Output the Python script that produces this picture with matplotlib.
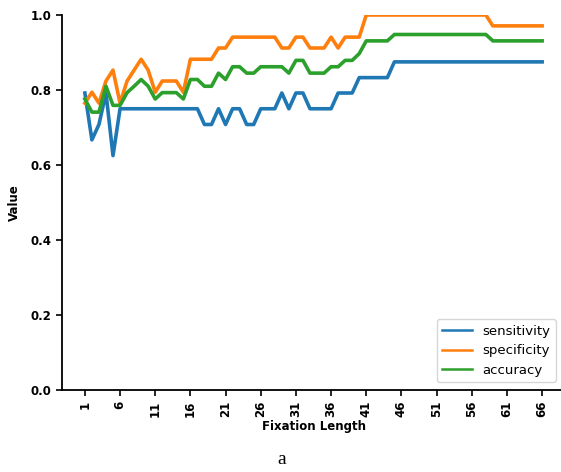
import matplotlib
matplotlib.use('Agg')
import matplotlib.pyplot as plt

# Fixation length 1..66
fixation = list(range(1, 67))

sensitivity = [0.792, 0.667, 0.708, 0.792, 0.625,
               0.75, 0.75, 0.75, 0.75, 0.75, 0.75, 0.75, 0.75, 0.75, 0.75, 0.75, 0.75,
               0.708, 0.708, 0.75, 0.708, 0.75, 0.75, 0.708, 0.708, 0.75, 0.75, 0.75,
               0.792, 0.75, 0.792, 0.792, 0.75, 0.75, 0.75, 0.75, 0.792, 0.792, 0.792,
               0.833, 0.833, 0.833, 0.833, 0.833,
               0.875, 0.875, 0.875, 0.875, 0.875, 0.875, 0.875, 0.875, 0.875, 0.875, 0.875,
               0.875, 0.875, 0.875, 0.875, 0.875, 0.875, 0.875, 0.875, 0.875, 0.875, 0.875]

specificity = [0.765, 0.794, 0.765, 0.824, 0.853, 0.765, 0.824, 0.853, 0.882, 0.853,
               0.794, 0.824, 0.824, 0.824, 0.794, 0.882, 0.882, 0.882, 0.882, 0.912,
               0.912, 0.941, 0.941, 0.941, 0.941, 0.941, 0.941, 0.941, 0.912, 0.912,
               0.941, 0.941, 0.912, 0.912, 0.912, 0.941, 0.912, 0.941, 0.941, 0.941,
               1.0, 1.0, 1.0, 1.0, 1.0, 1.0, 1.0, 1.0, 1.0, 1.0,
               1.0, 1.0, 1.0, 1.0, 1.0, 1.0, 1.0, 1.0,
               0.971, 0.971, 0.971, 0.971, 0.971, 0.971, 0.971, 0.971]

accuracy = [0.776, 0.741, 0.741, 0.810, 0.759, 0.759, 0.793, 0.810, 0.828, 0.810,
            0.776, 0.793, 0.793, 0.793, 0.776, 0.828, 0.828, 0.810, 0.810, 0.845,
            0.828, 0.862, 0.862, 0.845, 0.845, 0.862, 0.862, 0.862, 0.862, 0.845,
            0.879, 0.879, 0.845, 0.845, 0.845, 0.862, 0.862, 0.879, 0.879, 0.897,
            0.931, 0.931, 0.931, 0.931,
            0.948, 0.948, 0.948, 0.948, 0.948, 0.948, 0.948, 0.948, 0.948, 0.948,
            0.948, 0.948, 0.948, 0.948,
            0.931, 0.931, 0.931, 0.931, 0.931, 0.931, 0.931, 0.931]

xtick_values = list(range(1, 67, 5))

fig = plt.figure(figsize=(5.61, 4.72), dpi=100)
ax = fig.add_axes([62 / 561, 82 / 472, 503 / 561, 375 / 472])

ax.plot(fixation, sensitivity, color='#1f77b4', lw=2.6, label='sensitivity')
ax.plot(fixation, specificity, color='#ff7f0e', lw=2.6, label='specificity')
ax.plot(fixation, accuracy, color='#2ca02c', lw=2.6, label='accuracy')

ax.set_xlim(-2.25, 69.25)
ax.set_ylim(0, 1.0)
ax.set_xticks(xtick_values)
ax.set_xticklabels([str(v) for v in xtick_values], rotation=90,
                   fontsize=8.5, fontweight='bold')
ax.set_yticks([0.0, 0.2, 0.4, 0.6, 0.8, 1.0])
ax.set_yticklabels(['0.0', '0.2', '0.4', '0.6', '0.8', '1.0'],
                   fontsize=8.5, fontweight='bold')
ax.tick_params(length=4, width=1.2)

ax.spines['top'].set_visible(False)
ax.spines['right'].set_visible(False)
ax.spines['left'].set_linewidth(1.3)
ax.spines['bottom'].set_linewidth(1.3)

ax.set_xlabel('Fixation Length', fontsize=8.5, fontweight='bold', labelpad=2)
ax.set_ylabel('Value', fontsize=8.5, fontweight='bold', labelpad=7)

leg = ax.legend(loc='lower right', bbox_to_anchor=(556 / 561, 90 / 472),
                bbox_transform=fig.transFigure, fontsize=9.5, handlelength=2.3,
                borderaxespad=0, frameon=True)
for line in leg.get_lines():
    line.set_linewidth(1.8)

fig.text(282 / 561, 1 - 459 / 472, 'a', fontsize=14, family='Liberation Serif',
         ha='center', va='center')

fig.savefig('out.png', dpi=100)
